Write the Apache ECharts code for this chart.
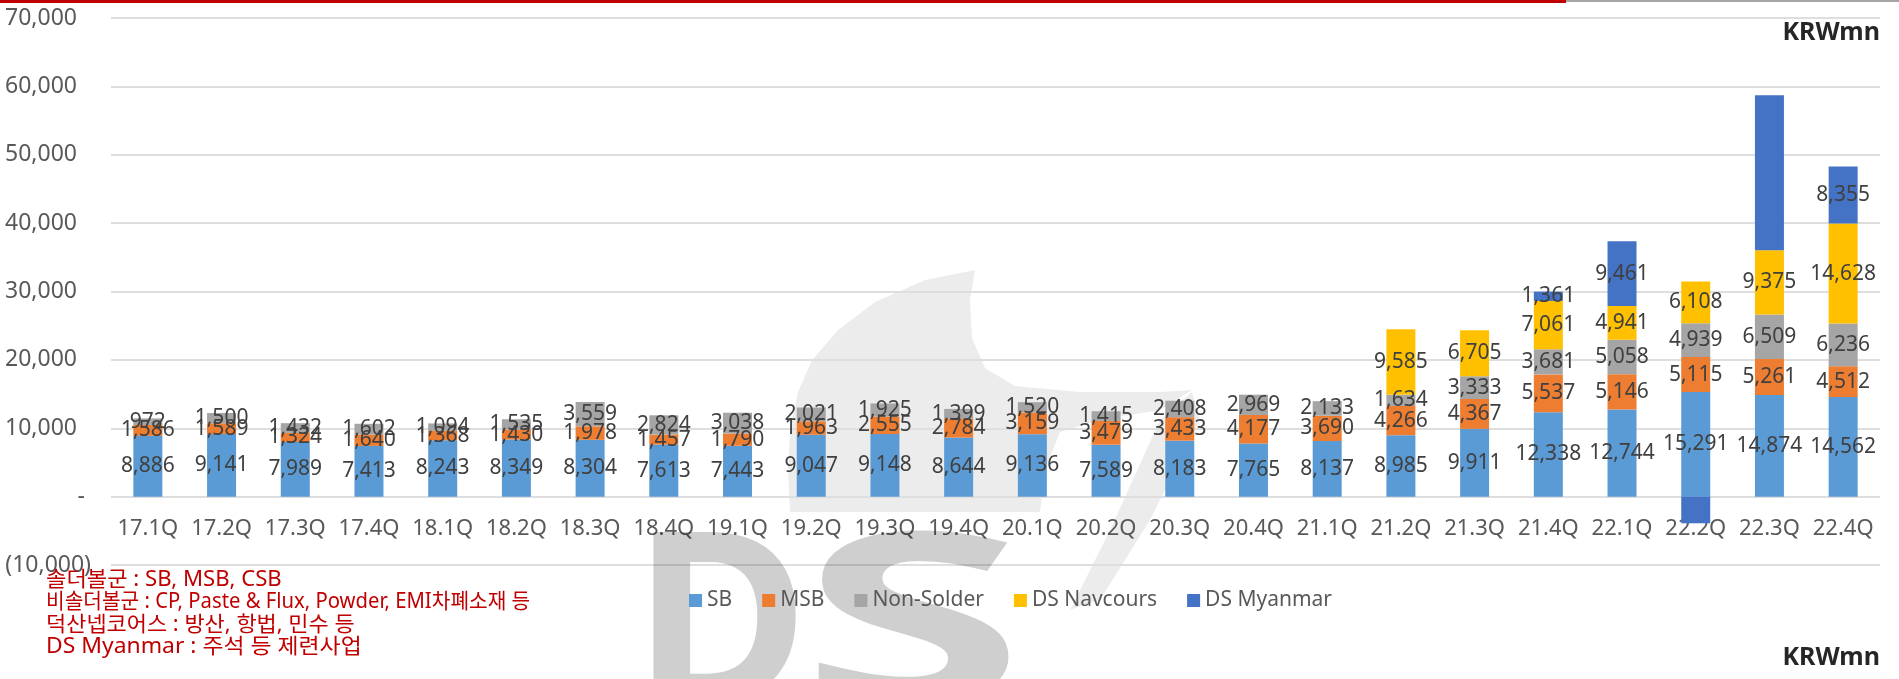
<!DOCTYPE html>
<html>
<head>
<meta charset="utf-8">
<script src="https://cdn.jsdelivr.net/npm/echarts@6/dist/echarts.min.js"></script>
<style>
  html, body { margin: 0; padding: 0; background: #ffffff; }
  #chart { width: 1899px; height: 679px; }
</style>
</head>
<body>
<div id="chart"></div>
<script>
// Quarterly revenue by business line, KRW mn
const categories = ['17.1Q','17.2Q','17.3Q','17.4Q','18.1Q','18.2Q','18.3Q','18.4Q',
  '19.1Q','19.2Q','19.3Q','19.4Q','20.1Q','20.2Q','20.3Q','20.4Q',
  '21.1Q','21.2Q','21.3Q','21.4Q','22.1Q','22.2Q','22.3Q','22.4Q'];

const sb = [8886, 9141, 7989, 7413, 8243, 8349, 8304, 7613, 7443, 9047, 9148, 8644,
  9136, 7589, 8183, 7765, 8137, 8985, 9911, 12338, 12744, 15291, 14874, 14562];

const msb = [1586, 1589, 1324, 1640, 1368, 1430, 1978, 1457, 1790, 1963, 2555, 2784,
  3159, 3479, 3433, 4177, 3690, 4266, 4367, 5537, 5146, 5115, 5261, 4512];

const nonSolder = [972, 1500, 1432, 1602, 1094, 1535, 3559, 2824, 3038, 2021, 1925, 1399,
  1520, 1415, 2408, 2969, 2133, 1634, 3333, 3681, 5058, 4939, 6509, 6236];

const navcours = [null, null, null, null, null, null, null, null, null, null, null, null,
  null, null, null, null, null, 9585, 6705, 7061, 4941, 6108, 9375, 14628];

const myanmar = [null, null, null, null, null, null, null, null, null, null, null, null,
  null, null, null, null, null, null, null, 1361, 9461, -3900, 22700, 8355];

// quarters whose DS Myanmar figure carries no printed value
const myanmarUnlabeled = ['22.2Q', '22.3Q'];

const seriesNames = ['SB', 'MSB', 'Non-Solder', 'DS Navcours', 'DS Myanmar'];
const seriesColors = ['#5b9bd5', '#ed7d31', '#a5a5a5', '#ffc000', '#4472c4'];

const notes = [
  '솔더볼군 : SB, MSB, CSB',
  '비솔더볼군 : CP, Paste & Flux, Powder, EMI차폐소재 등',
  '덕산넵코어스 : 방산, 항법, 민수 등',
  'DS Myanmar : 주석 등 제련사업'
];
// horizontal stretch per note line
const noteStretch = [1.055, 0.965, 1.045, 1.09];

const fmt = v => Number(v).toLocaleString('en-US');

const valueLabel = {
  show: true,
  position: 'inside',
  color: '#404040',
  fontFamily: 'Noto Sans',
  fontSize: 21,
  formatter: p => (p.value == null ? '' : fmt(p.value))
};

function barSeries(name, values, color, hidden) {
  return {
    name: name,
    type: 'bar',
    stack: 'total',
    barWidth: 29,
    z: 3,
    itemStyle: { color: color },
    label: valueLabel,
    data: values.map((v, i) => hidden && hidden.indexOf(categories[i]) >= 0
      ? { value: v, label: { show: false } }
      : v)
  };
}

const chart = echarts.init(document.getElementById('chart'), null, { renderer: 'canvas' });

const font = 'Noto Sans';
const mark = 'rgba(0,0,0,0.075)';

// accounting-style tick text: positives leave room for the closing bracket
function tickText(v) {
  if (v === 0) return '{z|-}';
  if (v < 0) return '{n|(' + fmt(-v) + ')}';
  return '{p|' + fmt(v) + '}';
}

chart.setOption({
  backgroundColor: '#ffffff',
  animation: false,
  grid: { left: 111, right: 19, top: 18, bottom: 114, containLabel: false },
  legend: {
    data: seriesNames,
    left: 684,
    top: 585,
    icon: 'rect',
    itemWidth: 13,
    itemHeight: 13,
    itemGap: 30,
    textStyle: { color: '#595959', fontFamily: font, fontSize: 21 }
  },
  xAxis: {
    type: 'category',
    data: categories,
    offset: -67.5,
    axisLine: { show: false, onZero: false },
    axisTick: { show: false },
    axisLabel: { color: '#595959', fontFamily: font, fontSize: 22, margin: 20, interval: 0 }
  },
  yAxis: {
    type: 'value',
    min: -10000,
    max: 70000,
    interval: 10000,
    axisLine: { show: false },
    axisTick: { show: false },
    splitLine: { lineStyle: { color: '#dedede', width: 2 } },
    axisLabel: {
      color: '#595959',
      fontFamily: font,
      fontSize: 23,
      margin: 20,
      formatter: tickText,
      rich: {
        p: { color: '#595959', fontFamily: font, fontSize: 23, padding: [0, 14, 0, 0] },
        n: { color: '#595959', fontFamily: font, fontSize: 23 },
        z: { color: '#595959', fontFamily: font, fontSize: 23, padding: [0, 6, 0, 0] }
      }
    }
  },
  series: [
    barSeries(seriesNames[0], sb, seriesColors[0]),
    barSeries(seriesNames[1], msb, seriesColors[1]),
    barSeries(seriesNames[2], nonSolder, seriesColors[2]),
    barSeries(seriesNames[3], navcours, seriesColors[3]),
    barSeries(seriesNames[4], myanmar, seriesColors[4], myanmarUnlabeled)
  ],
  graphic: [
    // header rule
    { type: 'rect', shape: { x: 0, y: 0, width: 1566, height: 3 }, style: { fill: '#c00000' }, silent: true, z: 10 },
    { type: 'rect', shape: { x: 1566, y: 0, width: 333, height: 2 }, style: { fill: '#a6a6a6' }, silent: true, z: 10 },
    // unit captions
    { type: 'text', x: 1880, y: 33, style: { text: 'KRWmn', fill: '#262626', font: 'bold 25px "Noto Sans"', textAlign: 'right', textVerticalAlign: 'middle' }, z: 10 },
    { type: 'text', x: 1880, y: 658, style: { text: 'KRWmn', fill: '#262626', font: 'bold 25px "Noto Sans"', textAlign: 'right', textVerticalAlign: 'middle' }, z: 10 },
    // company mark, drawn faintly behind the plot
    { type: 'polygon', z: 0, silent: true,
      shape: { points: [[975,270],[925,280],[875,302],[838,330],[812,360],[798,392],[790,430],[788,470],[790,512],
        [1040,512],[1045,470],[1060,432],[1100,420],[1160,410],[1192,390],[1160,392],[1080,392],
        [1015,386],[985,368],[972,338],[970,300]] },
      style: { fill: mark } },
    { type: 'polygon', z: 0, silent: true,
      shape: { points: [[1192,392],[1200,420],[1150,520],[1100,600],[1070,610],[1110,530],[1160,420]] },
      style: { fill: mark } },
    { type: 'text', x: 633, y: 636, z: 1, silent: true,
      style: { text: 'D', fill: 'rgba(0,0,0,0.19)', font: 'bold 240px "Noto Sans"', textAlign: 'left', textVerticalAlign: 'middle' } },
    { type: 'text', x: 800, y: 636, z: 1, scaleX: 1.7, silent: true,
      style: { text: 'S', fill: 'rgba(0,0,0,0.19)', font: 'bold 240px "Noto Sans"', textAlign: 'left', textVerticalAlign: 'middle' } }
  ].concat(notes.map((t, i) => ({
    type: 'text',
    x: 46,
    y: 580 + i * 22.5,
    z: 10,
    scaleX: noteStretch[i],
    style: { text: t, fill: '#c00000', font: '21px "Noto Sans", "Noto Sans CJK KR"', textAlign: 'left', textVerticalAlign: 'middle' }
  })))
});
</script>
</body>
</html>
